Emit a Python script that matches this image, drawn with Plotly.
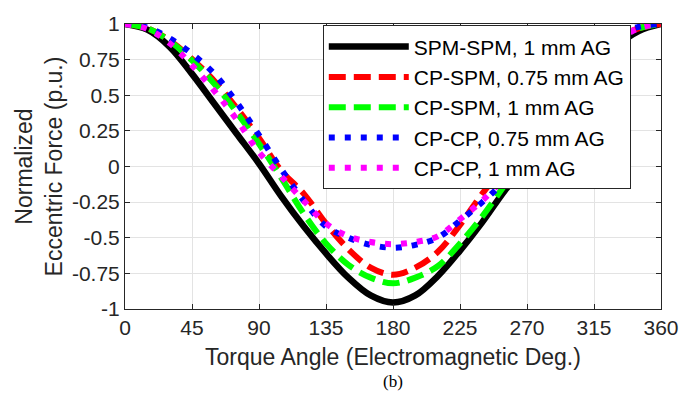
import plotly.graph_objects as go

# ---- data ----
angle = [0, 15, 30, 45, 60, 75, 90, 105, 120, 135, 150, 165, 180,
         195, 210, 225, 240, 255, 270, 285, 300, 315, 330, 345, 360]

spm_spm_1 = [1.00, 0.96, 0.84, 0.65, 0.44, 0.23, 0.02, -0.21, -0.42, -0.61, -0.78, -0.905, -0.955,
             -0.905, -0.77, -0.59, -0.39, -0.17, 0.02, 0.23, 0.44, 0.65, 0.84, 0.95, 1.00]
cp_spm_075 = [1.00, 0.97, 0.885, 0.755, 0.60, 0.41, 0.20, -0.03, -0.19, -0.40, -0.58, -0.71, -0.76,
              -0.71, -0.60, -0.41, -0.19, 0.00, 0.20, 0.41, 0.60, 0.77, 0.90, 0.97, 1.00]
cp_spm_1 = [1.00, 0.97, 0.88, 0.745, 0.58, 0.38, 0.16, -0.08, -0.33, -0.54, -0.69, -0.78, -0.82,
            -0.78, -0.70, -0.54, -0.35, -0.13, 0.10, 0.36, 0.58, 0.76, 0.895, 0.97, 1.00]
cp_cp_075 = [1.00, 0.975, 0.90, 0.79, 0.65, 0.45, 0.22, -0.02, -0.24, -0.42, -0.50, -0.55, -0.57,
             -0.55, -0.50, -0.38, -0.25, -0.10, 0.10, 0.33, 0.56, 0.78, 0.92, 0.98, 1.00]
cp_cp_1 = [1.00, 0.965, 0.865, 0.71, 0.53, 0.33, 0.10, -0.07, -0.24, -0.40, -0.49, -0.53, -0.545,
           -0.53, -0.49, -0.37, -0.24, -0.08, 0.07, 0.28, 0.50, 0.71, 0.875, 0.97, 1.00]

series_names = ["SPM-SPM, 1 mm AG", "CP-SPM, 0.75 mm AG", "CP-SPM, 1 mm AG",
                "CP-CP, 0.75 mm AG", "CP-CP, 1 mm AG"]

x_ticks = [0, 45, 90, 135, 180, 225, 270, 315, 360]
x_ticklabels = ["0", "45", "90", "135", "180", "225", "270", "315", "360"]
y_ticks = [-1, -0.75, -0.5, -0.25, 0, 0.25, 0.5, 0.75, 1]
y_ticklabels = ["-1", "-0.75", "-0.5", "-0.25", "0", "0.25", "0.5", "0.75", "1"]

# ---- styles ----
styles = [
    dict(color="#000000", width=6.5, dash="solid"),
    dict(color="#ff0000", width=6, dash="17px,8px"),
    dict(color="#00ff00", width=6, dash="17px,8px"),
    dict(color="#0000ff", width=6, dash="6px,10px"),
    dict(color="#ff00ff", width=6, dash="6px,10px"),
]

fig = go.Figure()
for name, ys, st in zip(series_names,
                        [spm_spm_1, cp_spm_075, cp_spm_1, cp_cp_075, cp_cp_1],
                        styles):
    fig.add_trace(go.Scatter(x=angle, y=ys, name=name, mode="lines",
                             line=dict(color=st["color"], width=st["width"],
                                       dash=st["dash"], shape="spline", smoothing=1.0)))

axis_col = "#262626"
grid_col = "#e3e3e3"
fig.update_layout(
    width=695, height=396,
    margin=dict(l=125, r=34, t=15, b=87),
    paper_bgcolor="white", plot_bgcolor="white",
    font=dict(family="Liberation Sans, Arial, sans-serif", color=axis_col),
    xaxis=dict(range=[0, 360], tickmode="array", tickvals=x_ticks, ticktext=x_ticklabels,
               ticks="inside", ticklen=5, tickcolor=axis_col, showline=True, linecolor=axis_col,
               linewidth=1, mirror="ticks", showgrid=True, gridcolor=grid_col, zeroline=False,
               tickfont=dict(size=21, color=axis_col),
               title=dict(text="Torque Angle (Electromagnetic Deg.)", font=dict(size=23, color=axis_col),
                          standoff=10)),
    yaxis=dict(range=[-1, 1], tickmode="array", tickvals=y_ticks, ticktext=y_ticklabels,
               ticks="inside", ticklen=5, tickcolor=axis_col, showline=True, linecolor=axis_col,
               linewidth=1, mirror="ticks", showgrid=True, gridcolor=grid_col, zeroline=False,
               tickfont=dict(size=21, color=axis_col),
               title=dict(text="Normalized<br>Eccentric Force (p.u.)", font=dict(size=23, color=axis_col),
                          standoff=2)),
    legend=dict(x=0.369, y=0.995, xanchor="left", yanchor="top",
                bgcolor="white", bordercolor=axis_col, borderwidth=1,
                font=dict(size=21, color="#000000"), itemwidth=80,
                tracegroupgap=0),
    showlegend=True,
)

fig.add_annotation(text="(b)", xref="paper", yref="paper", x=0.5, y=-0.215,
                   xanchor="center", yanchor="top", showarrow=False,
                   font=dict(family="Liberation Serif, Times New Roman, serif", size=17, color="#000000"))

fig.write_html("out.html")
